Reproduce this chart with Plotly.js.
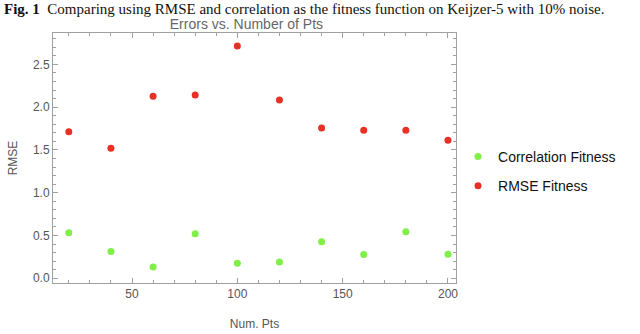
<!DOCTYPE html>
<html>
<head>
<meta charset="utf-8">
<script src="https://cdn.plot.ly/plotly-3.0.1.min.js"></script>
<style>
  html, body { margin: 0; padding: 0; background: #fff; }
  #chart { width: 640px; height: 334px; }
</style>
</head>
<body>
<div id="chart"></div>
<script>
var numPts = [20, 40, 60, 80, 100, 120, 140, 160, 180, 200];
var corrFitness = [0.533, 0.314, 0.133, 0.52, 0.176, 0.19, 0.427, 0.279, 0.545, 0.282];
var rmseFitness = [1.713, 1.519, 2.126, 2.141, 2.714, 2.083, 1.756, 1.729, 1.729, 1.612];

var axisGray = '#a0a0a0';
var tickText = '#555555';

var traceCorr = {
    x: numPts,
    y: corrFitness,
    mode: 'markers',
    type: 'scatter',
    name: 'Correlation Fitness',
    legendgroup: 'corr',
    marker: { color: 'rgb(128, 240, 72)', size: 7 }
};

var traceRmse = {
    x: numPts,
    y: rmseFitness,
    mode: 'markers',
    type: 'scatter',
    name: 'RMSE Fitness',
    legendgroup: 'rmse',
    marker: { color: 'rgb(232, 48, 36)', size: 7 }
};

var layout = {
    width: 640,
    height: 334,
    margin: { l: 53, r: 184, t: 33, b: 51 },
    paper_bgcolor: '#fff',
    plot_bgcolor: '#fff',
    font: { family: 'Liberation Sans, Arial, sans-serif', size: 12, color: tickText },
    title: {
        text: 'Errors vs. Number of Pts',
        font: { size: 14, color: '#666' },
        x: 0.385, xanchor: 'center', y: 0.927, yanchor: 'middle'
    },
    xaxis: {
        range: [12.5, 203.8],
        tickvals: [50, 100, 150, 200],
        showgrid: false, zeroline: false,
        showline: true, linecolor: axisGray, linewidth: 1, mirror: 'ticks',
        ticks: 'inside', ticklen: 5, tickcolor: axisGray,
        minor: { dtick: 10, ticks: 'inside', ticklen: 3, tickcolor: axisGray, showgrid: false },
        title: { text: 'Num. Pts', font: { size: 12, color: tickText }, standoff: 19 }
    },
    yaxis: {
        range: [-0.055, 2.866],
        tickvals: [0, 0.5, 1, 1.5, 2, 2.5],
        ticktext: ['0.0', '0.5', '1.0', '1.5', '2.0', '2.5'],
        showgrid: false, zeroline: false,
        showline: true, linecolor: axisGray, linewidth: 1, mirror: 'ticks',
        ticks: 'inside', ticklen: 5, tickcolor: axisGray,
        minor: { dtick: 0.1, ticks: 'inside', ticklen: 3, tickcolor: axisGray, showgrid: false },
        title: { text: 'RMSE', font: { size: 12, color: tickText }, standoff: 12 }
    },
    showlegend: true,
    legend: {
        x: 1.005, y: 0.446, xanchor: 'left', yanchor: 'middle',
        font: { size: 14, color: '#111' },
        itemsizing: 'trace', tracegroupgap: 8
    },
    annotations: [{
        text: '<b>Fig. 1</b>  Comparing using RMSE and correlation as the fitness function on Keijzer-5 with 10% noise.',
        xref: 'paper', yref: 'paper', x: -0.127, y: 1.0, xanchor: 'left', yanchor: 'bottom',
        yshift: 14, showarrow: false,
        font: { family: 'Liberation Serif, Times New Roman, serif', size: 15, color: '#111' }
    }]
};

Plotly.newPlot('chart', [traceCorr, traceRmse], layout, { displayModeBar: false });
</script>
</body>
</html>
